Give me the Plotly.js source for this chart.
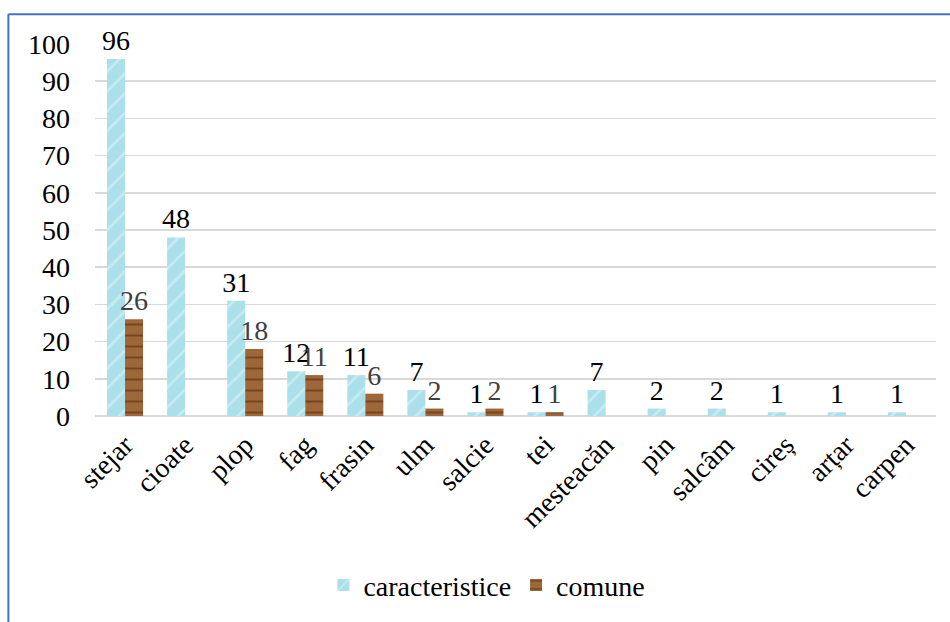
<!DOCTYPE html>
<html>
<head>
<meta charset="utf-8">
<script src="https://cdn.plot.ly/plotly-3.0.1.min.js"></script>
<style>html,body{margin:0;padding:0;background:#fff;}#chart{width:950px;height:622px;}</style>
</head>
<body>
<div id="chart"></div>
<script>
const categories = ["stejar","cioate","plop","fag","frasin","ulm","salcie","tei","mesteacăn","pin","salcâm","cireș","arțar","carpen"];
const caracteristice = [96,48,31,12,11,7,1,1,7,2,2,1,1,1];
const comune = [26,null,18,11,6,2,2,1,null,null,null,null,null,null];
const seriesNames = ["caracteristice","comune"];

const font = "Liberation Serif, Times New Roman, serif";
const fs = 28;

const traces = [
  {
    type: "bar", name: seriesNames[0], x: categories, y: caracteristice,
    text: caracteristice.map(v => v == null ? "" : String(v)),
    textposition: "outside", cliponaxis: false, constraintext: "none",
    textfont: {family: font, size: fs, color: "#000000"},
    marker: {color: "#ABDFE9", line: {width: 0},
      pattern: {shape: "/", bgcolor: "#ABDFE9", fgcolor: "#C4ECF2", size: 14, solidity: 0.2}},
    hoverinfo: "x+y"
  },
  {
    type: "bar", name: seriesNames[1], x: categories, y: comune,
    text: comune.map(v => v == null ? "" : String(v)),
    textposition: "outside", cliponaxis: false, constraintext: "none",
    textfont: {family: font, size: fs, color: "#404040"},
    marker: {color: "#9C6538", line: {width: 0},
      pattern: {shape: "-", bgcolor: "#9E6739", fgcolor: "#774620", size: 11, solidity: 0.18}},
    hoverinfo: "x+y"
  }
];

const layout = {
  width: 950, height: 622,
  margin: {l: 95, r: 14, t: 44, b: 203},
  paper_bgcolor: "#ffffff", plot_bgcolor: "#ffffff",
  barmode: "group", bargap: 0.4, bargroupgap: 0,
  font: {family: font, size: fs, color: "#000000"},
  showlegend: true,
  legend: {orientation: "h", x: 0.466, xanchor: "center", y: -0.455, yanchor: "middle",
    font: {family: font, size: fs, color: "#000000"}, itemwidth: 30, traceorder: "normal"},
  xaxis: {
    type: "category", tickangle: -45, showgrid: false, zeroline: false,
    showline: false, ticks: "", ticklabelstandoff: 6,
    tickfont: {family: font, size: fs, color: "#000000"}
  },
  yaxis: {
    range: [0, 100], dtick: 10, tick0: 0, showgrid: true, gridcolor: "#D9D9D9", gridwidth: 1.5,
    zeroline: true, zerolinecolor: "#D9D9D9", zerolinewidth: 1.5,
    showline: false, ticks: "", ticklabelstandoff: 24,
    tickfont: {family: font, size: fs, color: "#000000"}
  },
  shapes: [
    {type: "line", xref: "paper", yref: "paper", x0: -0.103, x1: 1.03, y0: 1.08, y1: 1.08,
      line: {color: "#4472C4", width: 2}},
    {type: "line", xref: "paper", yref: "paper", x0: -0.103, x1: -0.103, y0: 1.08, y1: -0.6,
      line: {color: "#4472C4", width: 2}}
  ]
};

Plotly.newPlot("chart", traces, layout, {displayModeBar: false, staticPlot: true});
</script>
</body>
</html>
